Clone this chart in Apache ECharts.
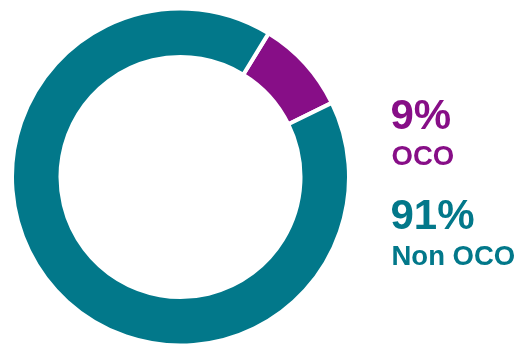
<!DOCTYPE html>
<html><head><meta charset="utf-8">
<script src="https://cdn.jsdelivr.net/npm/echarts@6/dist/echarts.min.js"></script>
<style>html,body{margin:0;padding:0;background:#fff}#c{width:520px;height:344px}</style>
</head><body><div id="c"></div>
<script>
var categories = ['OCO', 'Non OCO'];
var values = [9, 91];
var colors = ['#870E87', '#02788A'];
var pctLabels = ['9%', '91%'];

var chart = echarts.init(document.getElementById('c'), null, {renderer: 'canvas'});
var font = 'Liberation Sans, Arial, Helvetica, sans-serif';
var graphics = [];
var pctTop = [96, 196];
var nameTop = [143, 243.5];
for (var i = 0; i < categories.length; i++) {
  graphics.push({type: 'text', left: 390.5, top: pctTop[i], style: {text: pctLabels[i], fill: colors[i], font: 'bold 42px ' + font}});
  graphics.push({type: 'text', left: 391.5, top: nameTop[i], style: {text: categories[i], fill: colors[i], font: 'bold 27.5px ' + font}});
}
chart.setOption({
  animation: false,
  graphic: graphics,
  series: [{
    type: 'pie',
    center: [180.5, 177],
    radius: [120, 168.5],
    startAngle: 58.5,
    clockwise: true,
    label: {show: false},
    labelLine: {show: false},
    emphasis: {disabled: true},
    itemStyle: {borderColor: '#fff', borderWidth: 4},
    data: categories.map(function (c, i) { return {name: c, value: values[i], itemStyle: {color: colors[i]}}; })
  }]
});
</script></body></html>
